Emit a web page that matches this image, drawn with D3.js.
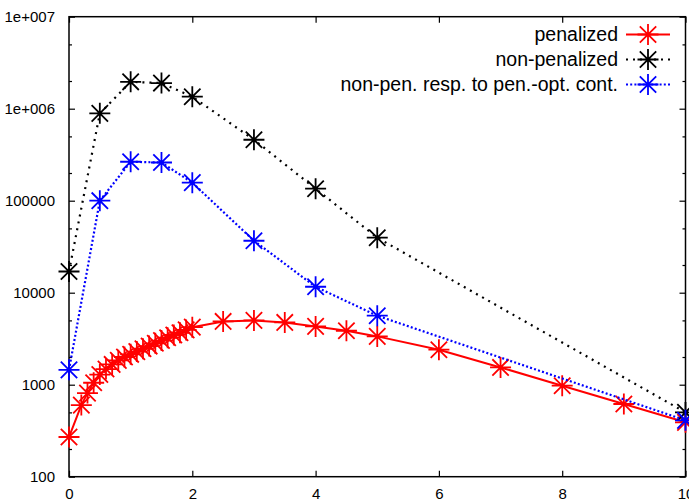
<!DOCTYPE html>
<html>
<head>
<meta charset="utf-8">
<script src="https://cdn.jsdelivr.net/npm/d3@7"></script>
<style>
html,body{margin:0;padding:0;background:#fff;}
svg{display:block;}
text{font-family:"Liberation Sans",Arial,Helvetica,sans-serif;fill:#000;}
</style>
</head>
<body>
<svg id="chart" width="689" height="501"></svg>
<script>
// ---- data ----
const penX = [0, 0.2, 0.3, 0.4, 0.5, 0.6, 0.7, 0.8, 0.9, 1.0, 1.1, 1.2, 1.3, 1.4, 1.5, 1.6, 1.7, 1.8, 1.9, 2.0, 2.5, 3, 3.5, 4, 4.5, 5, 6, 7, 8, 9, 10];
const penY = [270, 600, 810, 1050, 1290, 1480, 1660, 1840, 2000, 2140, 2290, 2460, 2630, 2820, 3020, 3240, 3470, 3670, 3940, 4220, 4870, 5000, 4750, 4300, 3860, 3350, 2400, 1540, 975, 617, 390];
const nonPenX = [0, 0.5, 1, 1.5, 2, 3, 4, 5, 10];
const nonPenY = [17000, 890000, 1960000, 1900000, 1350000, 460000, 135000, 39600, 500];
const respX = [0, 0.5, 1, 1.5, 2, 3, 4, 5, 10];
const respY = [1450, 100000, 265000, 260000, 157000, 36700, 11600, 5620, 410];
const xTicks = [0, 2, 4, 6, 8, 10];
const yTicks = [100, 1000, 10000, 100000, 1000000, 10000000];
const yTickLabels = ["100", "1000", "10000", "100000", "1e+006", "1e+007"];
const seriesNames = ["penalized", "non-penalized", "non-pen. resp. to pen.-opt. cont."];
const seriesColors = ["#ff0000", "#000000", "#0000ff"];
const seriesDash = [null, "2,5", "2,2.2"];

// ---- layout ----
const L = 69, R = 685.5, T = 16.7, B = 476.7;
const svg = d3.select("#chart");
const x = d3.scaleLinear().domain([0, 10]).range([L, R]);
const y = d3.scaleLog().domain([100, 1e7]).range([B, T]);

// minor ticks
const minor = [];
for (let d = 100; d < 1e7; d *= 10) { minor.push(d * 2, d * 5); }

const g = svg.append("g");
// bottom axis
const xb = g.append("g").attr("transform", `translate(0,${B})`)
  .call(d3.axisBottom(x).tickValues(xTicks).tickSizeInner(-6).tickSizeOuter(0).tickPadding(12).tickFormat(d3.format("d")));
// top mirror
const xt = g.append("g").attr("transform", `translate(0,${T})`)
  .call(d3.axisTop(x).tickValues(xTicks).tickSizeInner(-6).tickSizeOuter(0).tickFormat(""));
// left axis
const yl = g.append("g").attr("transform", `translate(${L},0)`)
  .call(d3.axisLeft(y).tickValues(yTicks).tickSizeInner(-6).tickSizeOuter(0).tickPadding(14).tickFormat((d, i) => yTickLabels[i]));
const ylm = g.append("g").attr("transform", `translate(${L},0)`)
  .call(d3.axisLeft(y).tickValues(minor).tickSizeInner(-3).tickSizeOuter(0).tickFormat(""));
// right mirror
const yr = g.append("g").attr("transform", `translate(${R},0)`)
  .call(d3.axisRight(y).tickValues(yTicks).tickSizeInner(-6).tickSizeOuter(0).tickFormat(""));
const yrm = g.append("g").attr("transform", `translate(${R},0)`)
  .call(d3.axisRight(y).tickValues(minor).tickSizeInner(-3).tickSizeOuter(0).tickFormat(""));

g.selectAll(".domain").remove();
g.selectAll(".tick line").attr("stroke", "#000").attr("stroke-width", 1.2);
g.selectAll(".tick text").attr("font-size", "15px").attr("fill", "#000")
  .style("font-family", '"Liberation Sans",Arial,sans-serif');

// frame
svg.append("rect").attr("x", L).attr("y", T).attr("width", R - L).attr("height", B - T)
  .attr("fill", "none").attr("stroke", "#000").attr("stroke-width", 1.5);

// star marker path (plus + cross)
function star(h) {
  return `M${-h},0L${h},0M0,${-h}L0,${h}M${-h*0.78},${-h*0.78}L${h*0.78},${h*0.78}M${-h*0.78},${h*0.78}L${h*0.78},${-h*0.78}`;
}

const series = [
  { xs: penX, ys: penY },
  { xs: nonPenX, ys: nonPenY },
  { xs: respX, ys: respY }
];

const line = d3.line().x(d => x(d[0])).y(d => y(d[1]));

series.forEach((s, i) => {
  const pts = s.xs.map((v, j) => [v, s.ys[j]]);
  const sg = svg.append("g");
  sg.append("path").attr("d", line(pts)).attr("fill", "none")
    .attr("stroke", seriesColors[i]).attr("stroke-width", i === 0 ? 2 : 2.2)
    .attr("stroke-dasharray", seriesDash[i]);
  sg.selectAll("path.m").data(pts).enter().append("path").attr("class", "m")
    .attr("transform", d => `translate(${x(d[0])},${y(d[1])})`)
    .attr("d", star(10.5)).attr("fill", "none")
    .attr("stroke", seriesColors[i]).attr("stroke-width", 1.8);
});

// legend
const legY = [34.5, 59.5, 84.5];
const lg = svg.append("g");
seriesNames.forEach((name, i) => {
  lg.append("text").attr("x", 618).attr("y", legY[i]).attr("dy", "0.35em")
    .attr("text-anchor", "end").attr("font-size", "19.5px").text(name);
  lg.append("line").attr("x1", 626).attr("x2", 670).attr("y1", legY[i]).attr("y2", legY[i])
    .attr("stroke", seriesColors[i]).attr("stroke-width", i === 0 ? 2 : 2.2)
    .attr("stroke-dasharray", seriesDash[i]);
  lg.append("path").attr("transform", `translate(648,${legY[i]})`)
    .attr("d", star(10.5)).attr("fill", "none")
    .attr("stroke", seriesColors[i]).attr("stroke-width", 1.8);
});
</script>
</body>
</html>
